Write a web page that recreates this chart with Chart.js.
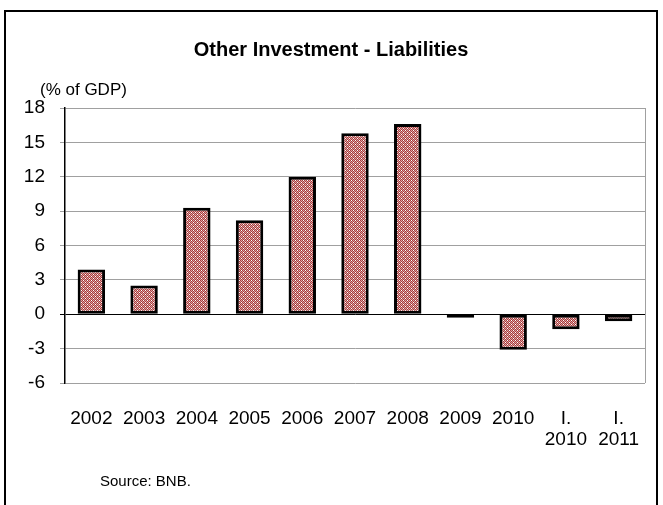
<!DOCTYPE html>
<html>
<head>
<meta charset="utf-8">
<script src="https://cdn.jsdelivr.net/npm/chart.js@4/dist/chart.umd.min.js"></script>
<style>
  html, body { margin: 0; padding: 0; background: #fff; }
  #wrap { position: relative; width: 663px; height: 505px; }
</style>
</head>
<body>
<div id="wrap"><canvas id="chart" width="663" height="505"></canvas></div>
<script>
    let years = ['2002', '2003', '2004', '2005', '2006', '2007', '2008', '2009', '2010', ['I.', '2010'], ['I.', '2011']];
    let liabilities = [3.9, 2.5, 9.3, 8.2, 12.0, 15.8, 16.6, -0.3, -3.1, -1.3, -0.6];
    let y_ticks = [18, 15, 12, 9, 6, 3, 0, -3, -6];

    let font_family = '"Liberation Sans", Arial, sans-serif';

    // small checkered tile for the bar fill
    let tile = document.createElement('canvas');
    tile.width = 4;
    tile.height = 4;
    let tctx = tile.getContext('2d');
    tctx.fillStyle = '#dca3a3';
    tctx.fillRect(0, 0, 4, 4);
    tctx.fillStyle = '#a63c3c';
    for (let i = 0; i < 4; i++) {
        for (let j = 0; j < 4; j++) {
            if ((i + j) % 2 == 0) tctx.fillRect(i, j, 1, 1);
        }
    }
    tctx.fillStyle = '#ffffff';
    tctx.fillRect(1, 2, 1, 1);
    tctx.fillRect(3, 0, 1, 1);
    let bar_fill = document.getElementById('chart').getContext('2d').createPattern(tile, 'repeat');

    let frame_and_text = {
        id: 'frame_and_text',
        afterDraw(chart) {
            let ctx = chart.ctx;
            let area = chart.chartArea;
            ctx.save();
            // plot frame on the right
            ctx.strokeStyle = '#a0a0a0';
            ctx.lineWidth = 1;
            ctx.beginPath();
            ctx.moveTo(Math.round(area.right) + 0.5, area.top);
            ctx.lineTo(Math.round(area.right) + 0.5, area.bottom);
            ctx.stroke();
            // outer box
            ctx.strokeStyle = '#000';
            ctx.lineWidth = 2;
            ctx.strokeRect(5, 11, 652, 520);
            ctx.fillStyle = '#000';
            ctx.textBaseline = 'middle';
            ctx.textAlign = 'center';
            ctx.font = 'bold 20px ' + font_family;
            ctx.fillText('Other Investment - Liabilities', 331, 50);
            ctx.textAlign = 'left';
            ctx.font = '17px ' + font_family;
            ctx.fillText('(% of GDP)', 40, 90);
            ctx.font = '15px ' + font_family;
            ctx.fillText('Source: BNB.', 100, 482);
            ctx.restore();
        }
    };

    let chart = new Chart(document.getElementById('chart'), {
        type: 'bar',
        data: {
            labels: years,
            datasets: [{
                label: 'Other Investment - Liabilities',
                data: liabilities,
                backgroundColor: bar_fill,
                borderColor: '#000',
                borderWidth: 3,
                borderSkipped: false,
                barPercentage: 0.52,
                categoryPercentage: 1
            }]
        },
        options: {
            responsive: false,
            animation: false,
            layout: { padding: { left: 0, right: 18, top: 108, bottom: 0 } },
            plugins: {
                legend: { display: false },
                tooltip: { enabled: false },
                title: { display: false }
            },
            scales: {
                x: {
                    grid: { display: false },
                    border: { display: false },
                    ticks: {
                        color: '#000',
                        font: { family: font_family, size: 19, lineHeight: 1.1 },
                        padding: 17,
                        maxRotation: 0,
                        autoSkip: false
                    },
                    afterFit: (s) => { s.height = 122; }
                },
                y: {
                    min: -6,
                    max: 18,
                    afterBuildTicks: (s) => { s.ticks = y_ticks.map(v => ({ value: v })); },
                    grid: {
                        color: (c) => c.tick && c.tick.value == 0 ? '#000' : '#a0a0a0',
                        lineWidth: 1,
                        tickLength: 5
                    },
                    border: { color: '#000', width: 1.5 },
                    ticks: {
                        color: '#000',
                        font: { family: font_family, size: 19 },
                        padding: 15
                    },
                    afterFit: (s) => { s.width = 65; }
                }
            }
        },
        plugins: [frame_and_text]
    });
</script>
</body>
</html>
